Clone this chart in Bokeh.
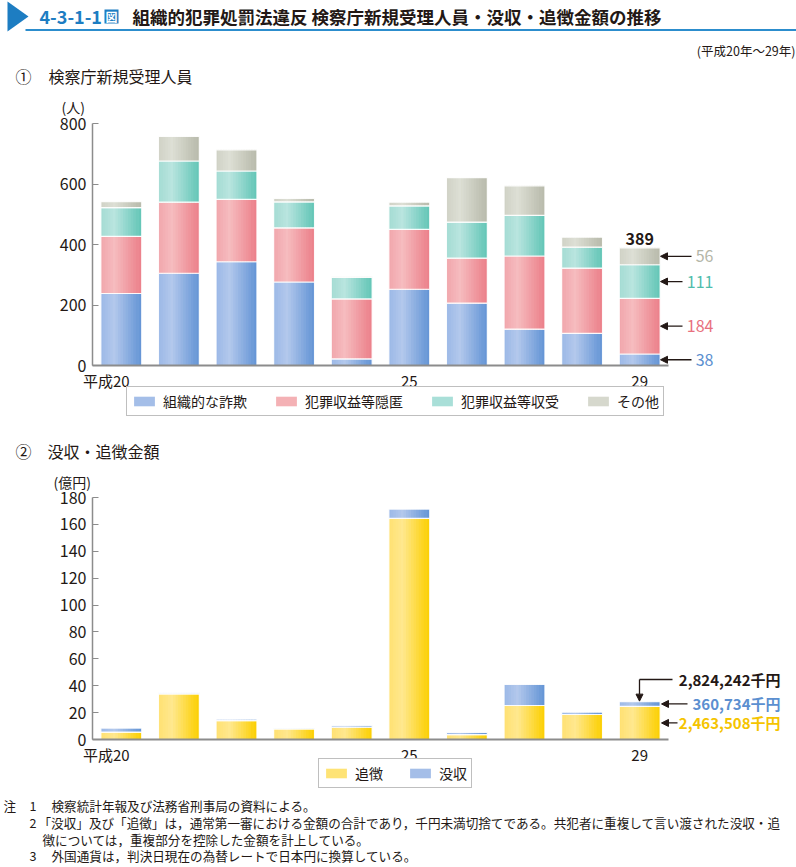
from bokeh.plotting import figure
from bokeh.models import (Label, Arrow, NormalHead, Legend, LegendItem, FixedTicker,
                          BoxAnnotation, PolyAnnotation, Range1d, LinearAxis)
from bokeh.layouts import column
from bokeh.embed import file_html
from bokeh.resources import INLINE
import numpy as np

# ---------------- data ----------------
years = ["平成20", "21", "22", "23", "24", "25", "26", "27", "28", "29"]
tick_labels = {0: "平成20", 5: "25", 9: "29"}

series1_names = ["組織的な詐欺", "犯罪収益等隠匿", "犯罪収益等収受", "その他"]
fraud = [238, 305, 343, 276, 22, 252, 206, 120, 106, 38]
conceal = [189, 235, 206, 179, 198, 198, 149, 242, 216, 184]
receipt = [95, 136, 94, 86, 71, 78, 119, 134, 69, 111]
other = [20, 81, 70, 11, 4, 12, 147, 98, 33, 56]

series2_names = ["追徴", "没収"]
tsuichou = [5.5, 34.0, 14.1, 7.9, 9.2, 164.4, 3.7, 25.3, 18.6, 24.63508]   # 億円
bosshu = [3.0, 0.8, 1.0, 0.5, 1.2, 7.0, 1.5, 15.6, 1.7, 3.60734]          # 億円

y1_ticks = [0, 200, 400, 600, 800]
y2_ticks = [0, 20, 40, 60, 80, 100, 120, 140, 160, 180]

notes = [
    ("注", "1", "検察統計年報及び法務省刑事局の資料による。"),
    ("", "2", "「没収」及び「追徴」は，通常第一審における金額の合計であり，千円未満切捨てである。共犯者に重複して言い渡された没収・追"),
    ("", "", "徴については，重複部分を控除した金額を計上している。"),
    ("", "3", "外国通貨は，判決日現在の為替レートで日本円に換算している。"),
]

# ---------------- style / page geometry ----------------
FONT = "Noto Sans CJK JP"
TXT = "#231815"
AXC = "#8c8c8c"
BLUE_T = "#1d7dc2"
W = 796
TOP_A, HA = 0, 432          # page y of figure A top, its height
TOP_B, HB = 432, 435
BW = 0.71
NSTRIP = 16
FIRST_TICK_SHIFT = -0.26    # "平成20" hangs to the left of its bar

grad1 = [("#9ab8e6", "#b3c8ec", "#6394d5"),
         ("#f1a5ab", "#f6bcbf", "#ec7f89"),
         ("#a3dbd3", "#b9e5df", "#62c5b6"),
         ("#cfd1c5", "#dddfd5", "#b8baab")]
grad2 = [("#ffe070", "#ffe88f", "#fccf00"),
         ("#9ab8e6", "#b3c8ec", "#6394d5")]
label1_colors = ["#5b8fd0", "#e8707e", "#4fbcab", "#b4b6a8"]
arrow1_tail = [691, 682, 682, 691]


def hex2rgb(h):
    return np.array([int(h[i:i + 2], 16) for i in (1, 3, 5)], float)


def strip_colors(c_left, c_light, c_right, n):
    a, b, c = hex2rgb(c_left), hex2rgb(c_light), hex2rgb(c_right)
    out = []
    for i in range(n):
        t = (i + 0.5) / n
        if t < 0.35:
            col = a + (b - a) * (t / 0.35)
        else:
            col = b + (c - b) * ((t - 0.35) / 0.65)
        out.append("#%02x%02x%02x" % tuple(int(round(v)) for v in col))
    return out


# page pixel -> data coordinate helpers (frame == whole canvas)
def fx(px):
    return (px - 92) / 57.6 - 0.5


def fyA(py):
    return (365 - py) * 800 / 242


def fyB(py):
    return (739 - py) * 180 / 242


def lab(p, x, y, text, size=14, color=TXT, bold=False, align="left", baseline="middle", **kw):
    p.add_layout(Label(x=x, y=y, text=text, text_font=FONT, text_font_size=f"{size}px",
                       text_color=color, text_font_style="bold" if bold else "normal",
                       text_align=align, text_baseline=baseline, **kw))


def base_fig(top, h, fy, ymax, yticks):
    p = figure(width=W, height=h,
               x_range=Range1d(fx(0), fx(W)), y_range=Range1d(fy(top + h), fy(top)),
               output_backend="svg", toolbar_location=None,
               x_axis_location=None, y_axis_location=None,
               min_border=0, min_border_left=0, min_border_right=0,
               min_border_top=0, min_border_bottom=0)
    p.outline_line_color = None
    p.xgrid.visible = False
    p.ygrid.visible = False
    p.background_fill_color = "white"
    p.border_fill_color = "white"

    tick_pos = [k + (FIRST_TICK_SHIFT if k == 0 else 0) for k in tick_labels]
    overrides = {tp: tick_labels[k] for tp, k in zip(tick_pos, tick_labels)}
    xa = LinearAxis(fixed_location=0, bounds=(-0.5, 9.5),
                    ticker=FixedTicker(ticks=tick_pos),
                    major_label_overrides=overrides)
    xa.major_tick_in = 0
    xa.major_tick_out = 0
    xa.minor_tick_line_color = None
    xa.axis_line_color = AXC
    xa.axis_line_width = 2
    xa.major_label_text_font = FONT
    xa.major_label_text_font_size = "15px"
    xa.major_label_text_color = TXT
    xa.major_label_standoff = 4
    p.add_layout(xa, "below")

    ya = LinearAxis(fixed_location=-0.5, bounds=(0, ymax), ticker=FixedTicker(ticks=yticks))
    ya.major_tick_in = 6
    ya.major_tick_out = 0
    ya.major_tick_line_color = AXC
    ya.minor_tick_line_color = None
    ya.axis_line_color = AXC
    ya.axis_line_width = 1.5
    ya.major_label_text_font = FONT
    ya.major_label_text_font_size = "16px"
    ya.major_label_text_color = TXT
    ya.major_label_standoff = 6
    p.add_layout(ya, "left")
    return p


def stacked_bars(p, series, grads, names):
    xs = np.arange(len(years), dtype=float)
    bottom = np.zeros(len(years))
    items = []
    for vals, g, name in zip(series, grads, names):
        vals = np.array(vals, float)
        top = bottom + vals
        cols = strip_colors(*g, NSTRIP)
        sw = BW / NSTRIP
        mid_r = None
        for i, c in enumerate(cols):
            off = -BW / 2 + sw * (i + 0.5)
            wmul = 1.0 if i in (0, NSTRIP - 1) else 1.6
            r = p.vbar(x=xs + off, width=sw * wmul, bottom=bottom, top=top,
                       fill_color=c, line_color=None)
            if i == NSTRIP // 2 - 1:
                mid_r = r
        p.vbar(x=xs, width=BW, bottom=bottom, top=top, fill_color=None,
               line_color="white", line_width=1.2, line_alpha=0.9)
        items.append(LegendItem(label=name, renderers=[mid_r]))
        bottom = top
    return items


def make_legend(p, items, loc, spacing):
    leg = Legend(items=items, location=loc, orientation="horizontal",
                 label_text_font=FONT, label_text_font_size="14px", label_text_color=TXT,
                 glyph_width=26, glyph_height=12, label_standoff=6, spacing=spacing,
                 padding=4, margin=0, border_line_color="#7f7f7f", border_line_width=1,
                 background_fill_alpha=1, label_height=14)
    p.add_layout(leg, "center")


# ================= figure A =================
pA = base_fig(TOP_A, HA, fyA, 800, y1_ticks)
itemsA = stacked_bars(pA, [fraud, conceal, receipt, other], grad1, series1_names)
# legend: bottom-left corner at page (126, 416), measured from canvas bottom-left
make_legend(pA, itemsA, (126, TOP_A + HA - 416), 26)

# header
pA.add_layout(PolyAnnotation(xs=[fx(7), fx(7), fx(28)], ys=[fyA(1), fyA(31), fyA(16)],
                             fill_color=BLUE_T, fill_alpha=1, line_color=None))
pA.add_layout(BoxAnnotation(left=fx(25), right=fx(800), top=fyA(28.5), bottom=fyA(30.5),
                            fill_color="#2c8dcd", fill_alpha=1, line_color=None))
lab(pA, fx(39), fyA(16), "4-3-1-1", 18, BLUE_T, bold=True)
pA.add_layout(BoxAnnotation(left=fx(104), right=fx(118), top=fyA(9), bottom=fyA(23),
                            fill_color=BLUE_T, fill_alpha=1, line_color=None))
lab(pA, fx(111), fyA(16), "図", 12, "white", bold=True, align="center")
lab(pA, fx(132), fyA(16), "組織的犯罪処罰法違反 検察庁新規受理人員・没収・追徴金額の推移", 17.5, TXT, bold=True)
lab(pA, fx(795), fyA(50), "(平成20年～29年)", 12.5, TXT, align="right")
lab(pA, fx(15), fyA(75), "①", 16)
lab(pA, fx(48), fyA(75), "検察庁新規受理人員", 16)
lab(pA, fx(61), fyA(106), "(人)", 14)

# H29 annotations
last = len(years) - 1
vals1 = [fraud[last], conceal[last], receipt[last], other[last]]
total1 = sum(vals1)
lab(pA, last, total1, f"{total1}", 16, TXT, bold=True, align="center", baseline="bottom", y_offset=3)
cum = 0
for v, col, tail in zip(vals1, label1_colors, arrow1_tail):
    mid = cum + v / 2
    cum += v
    pA.add_layout(Arrow(x_start=fx(tail), y_start=mid, x_end=fx(660), y_end=mid,
                        line_color=TXT, line_width=1.3,
                        end=NormalHead(size=7, fill_color=TXT, line_color=TXT)))
    lab(pA, fx(713), mid, f"{v}", 16, col, align="right")

# ================= figure B =================
pB = base_fig(TOP_B, HB, fyB, 180, y2_ticks)
itemsB = stacked_bars(pB, [tsuichou, bosshu], grad2, series2_names)
make_legend(pB, itemsB, (318, TOP_B + HB - 788), 24)

lab(pB, fx(15), fyB(450), "②", 16)
lab(pB, fx(47), fyB(450), "没収・追徴金額", 16)
lab(pB, fx(53), fyB(481), "(億円)", 14)

t29, b29 = tsuichou[last], bosshu[last]
tot29 = t29 + b29
fmt = lambda v: f"{int(round(v * 100000)):,}千円"
pB.add_layout(Arrow(x_start=fx(672), y_start=fyB(679), x_end=fx(639), y_end=fyB(679),
                    line_color=TXT, line_width=1.3, end=None))
pB.add_layout(Arrow(x_start=fx(639), y_start=fyB(679), x_end=fx(639), y_end=tot29 + 0.3,
                    line_color=TXT, line_width=1.3,
                    end=NormalHead(size=7, fill_color=TXT, line_color=TXT)))
lab(pB, fx(780), fyB(679), fmt(tot29), 15, TXT, bold=True, align="right")
for v, y, col, tail in [(b29, t29 + b29 / 2, "#5b8fd0", 687), (t29, t29 / 2, "#f5c400", 677)]:
    pB.add_layout(Arrow(x_start=fx(tail), y_start=y, x_end=fx(661), y_end=y,
                        line_color=TXT, line_width=1.3,
                        end=NormalHead(size=7, fill_color=TXT, line_color=TXT)))
    lab(pB, fx(780), y, fmt(v), 15, col, bold=True, align="right")

# notes
note_y = [805, 822, 839, 855]
for (a, b, c), py in zip(notes, note_y):
    if a:
        lab(pB, fx(3), fyB(py), a, 12.6)
    if b:
        lab(pB, fx(29), fyB(py), b, 12.6)
    if c.startswith("「"):
        left = 38
    elif not b:
        left = 42
    else:
        left = 51
    lab(pB, fx(left), fyB(py), c, 12.6)

layout = column(pA, pB, spacing=0)
open("out.html", "w").write(file_html(layout, INLINE))
